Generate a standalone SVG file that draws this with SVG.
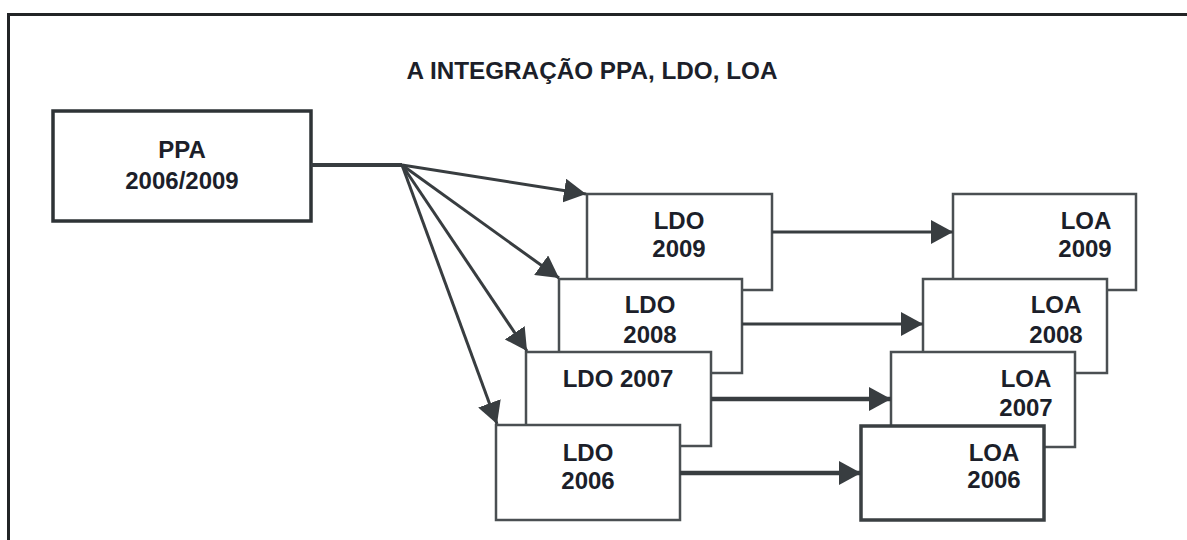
<svg xmlns="http://www.w3.org/2000/svg" width="1187" height="540" viewBox="0 0 1187 540">
  <style>
    .t { font-family: "Liberation Sans", Arial, sans-serif; font-weight: bold; font-size: 24px; fill: #1c1f2a; text-anchor: middle; }
    .box { fill: #ffffff; stroke: #4a4f52; stroke-width: 2.5; }
    .ppa { fill: #ffffff; stroke: #2e3336; stroke-width: 3.5; }
    .loa6 { fill: #ffffff; stroke: #3a3f42; stroke-width: 3.5; }
    .c { fill: none; stroke: #383d40; stroke-width: 3; }
    .ch { fill: none; stroke: #383d40; stroke-width: 4.5; }
  </style>
  <defs>
    <marker id="ah" markerUnits="userSpaceOnUse" markerWidth="24" markerHeight="24" refX="22" refY="12" orient="auto">
      <path d="M0,0 L22,12 L0,24 Z" fill="#383d40"/>
    </marker>
  </defs>
  <rect width="1187" height="540" fill="#ffffff"/>
  <g id="frame">
    <path d="M8.5,540 V14.5 H1187" fill="none" stroke="#222426" stroke-width="3"/>
  </g>
  <g id="title">
    <text class="t" x="592" y="79" textLength="371" lengthAdjust="spacingAndGlyphs">A INTEGRAÇÃO PPA, LDO, LOA</text>
  </g>
  <g id="ppa">
    <rect class="ppa" x="53" y="111" width="258" height="110"/>
    <text class="t" x="182" y="158">PPA</text>
    <text class="t" x="182" y="189">2006/2009</text>
  </g>
  <g id="ldo2009">
    <rect class="box" x="587" y="194" width="185" height="96"/>
    <text class="t" x="679" y="229">LDO</text>
    <text class="t" x="679" y="257">2009</text>
  </g>
  <g id="ldo2008">
    <rect class="box" x="559" y="279" width="183" height="94"/>
    <text class="t" x="650" y="313">LDO</text>
    <text class="t" x="650" y="343">2008</text>
  </g>
  <g id="ldo2007">
    <rect class="box" x="526" y="352" width="185" height="94"/>
    <text class="t" x="618" y="387">LDO 2007</text>
  </g>
  <g id="ldo2006">
    <rect class="box" x="496" y="425" width="184" height="95"/>
    <text class="t" x="588" y="461">LDO</text>
    <text class="t" x="588" y="489">2006</text>
  </g>
  <g id="loa2009">
    <rect class="box" x="953" y="194" width="183" height="96"/>
    <text class="t" x="1086" y="229">LOA</text>
    <text class="t" x="1085" y="257">2009</text>
  </g>
  <g id="loa2008">
    <rect class="box" x="923" y="279" width="184" height="94"/>
    <text class="t" x="1056" y="313">LOA</text>
    <text class="t" x="1056" y="343">2008</text>
  </g>
  <g id="loa2007">
    <rect class="box" x="891" y="352" width="184" height="95"/>
    <text class="t" x="1026" y="387">LOA</text>
    <text class="t" x="1026" y="416">2007</text>
  </g>
  <g id="loa2006">
    <rect class="loa6" x="861" y="426" width="183" height="94"/>
    <text class="t" x="994" y="461">LOA</text>
    <text class="t" x="994" y="488">2006</text>
  </g>
  <g id="connectors">
    <path d="M311,165 H402" fill="none" stroke="#383d40" stroke-width="4"/>
    <line class="c" x1="402" y1="165" x2="586" y2="194" marker-end="url(#ah)"/>
    <line class="c" x1="402" y1="165" x2="559" y2="278" marker-end="url(#ah)"/>
    <line class="c" x1="402" y1="165" x2="527" y2="351" marker-end="url(#ah)"/>
    <line class="c" x1="402" y1="165" x2="497" y2="424" marker-end="url(#ah)"/>
    <line class="c" x1="772" y1="232" x2="953" y2="232" marker-end="url(#ah)"/>
    <line class="c" x1="742" y1="324" x2="923" y2="324" marker-end="url(#ah)"/>
    <line class="ch" x1="711" y1="399" x2="891" y2="399" marker-end="url(#ah)"/>
    <line class="ch" x1="680" y1="473" x2="861" y2="473" marker-end="url(#ah)"/>
  </g>
</svg>
